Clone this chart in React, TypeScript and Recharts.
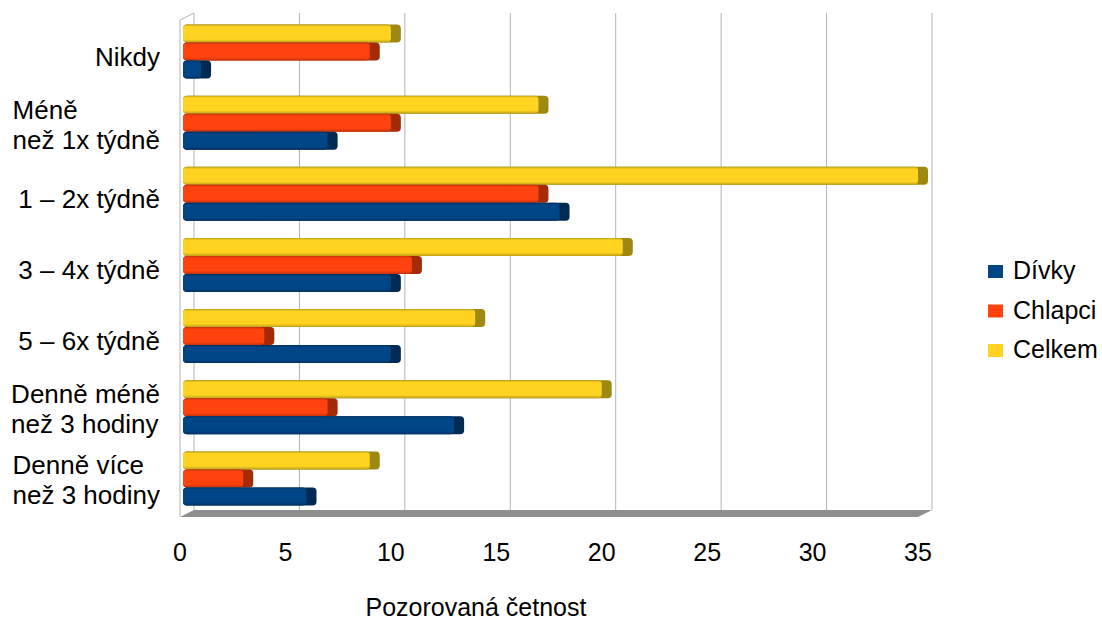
import { BarChart, Bar, XAxis, YAxis, CartesianGrid, Customized } from "recharts";

const categories = [
  "Nikdy",
  "Méně\nnež 1x týdně",
  "1 – 2x týdně",
  "3 – 4x týdně",
  "5 – 6x týdně",
  "Denně méně\nnež 3 hodiny",
  "Denně více\nnež 3 hodiny",
];
const divky = [1, 7, 18, 10, 10, 13, 6];
const chlapci = [9, 10, 17, 11, 4, 7, 3];
const celkem = [10, 17, 35, 21, 14, 20, 9];
const xTicks = [0, 5, 10, 15, 20, 25, 30, 35];

const FONT = '"Liberation Sans", Arial, sans-serif';
const FS = 25;
const YFS = 26;

const series = [
  { key: "celkem", name: "Celkem", main: "#ffd320", dark: "#9e8912", edge: "#b9a01a" },
  { key: "chlapci", name: "Chlapci", main: "#ff420e", dark: "#a52a07", edge: "#c5340b" },
  { key: "divky", name: "Dívky", main: "#004586", dark: "#002a52", edge: "#003163" },
];
const legendOrder = ["divky", "chlapci", "celkem"];

const data = categories.map((name, i) => ({
  name,
  divky: divky[i],
  chlapci: chlapci[i],
  celkem: celkem[i],
}));

let ctx: CanvasRenderingContext2D | null = null;
function textWidth(s: string) {
  if (!ctx) ctx = document.createElement("canvas").getContext("2d");
  if (!ctx) return s.length * YFS * 0.5;
  ctx.font = `${YFS}px "Liberation Sans"`;
  return ctx.measureText(s).width;
}

const makeShape = (s: (typeof series)[number]) => (p: any) => {
  const { x, y, width, height } = p;
  if (!width || width <= 0) return <g />;
  const x0 = x + 3;
  const x1 = x + width;
  const depth = 10;
  const gid = `g-${s.key}`;
  return (
    <g>
      <defs>
        <linearGradient id={gid} x1="0" y1="0" x2="0" y2="1">
          <stop offset="0" stopColor={s.edge} />
          <stop offset="0.12" stopColor={s.main} />
          <stop offset="0.82" stopColor={s.main} />
          <stop offset="1" stopColor={s.edge} />
        </linearGradient>
      </defs>
      <rect x={x0} y={y} width={x1 + depth - x0} height={height} rx={4} fill={s.dark} />
      <rect x={x0} y={y} width={x1 - x0} height={height} rx={4} fill={`url(#${gid})`} />
    </g>
  );
};

function YTick(p: any) {
  const lines = String(p.payload.value).split("\n");
  const right = 160;
  const cy = p.y;
  if (lines.length === 1) {
    return (
      <text x={right} y={cy + 14} textAnchor="end" fontSize={YFS} fontFamily={FONT} fill="#000">
        {lines[0]}
      </text>
    );
  }
  const left = right - Math.max(...lines.map(textWidth));
  return (
    <text fontSize={YFS} fontFamily={FONT} fill="#000" textAnchor="start">
      {lines.map((l, i) => (
        <tspan key={i} x={left} y={cy - 4 + i * 30}>
          {l}
        </tspan>
      ))}
    </text>
  );
}

function XTick(p: any) {
  return (
    <text x={p.x} y={p.y + 39} textAnchor="middle" fontSize={FS} fontFamily={FONT} fill="#000">
      {p.payload.value}
    </text>
  );
}

function Decor() {
  return (
    <g>
      <polygon points="180,517 918,517 932,510 194,510" fill="#8e8e8e" />
      <line x1={180} y1={20} x2={194} y2={13} stroke="#b3b3b3" strokeWidth={1} />
      <line x1={180} y1={20} x2={180} y2={517} stroke="#b3b3b3" strokeWidth={1} />
      <text x={476} y={616} textAnchor="middle" fontSize={FS} fontFamily={FONT} fill="#000">
        Pozorovaná četnost
      </text>
      {legendOrder.map((k, i) => {
        const s = series.find((e) => e.key === k)!;
        const base = 279 + i * 39.5;
        return (
          <g key={k}>
            <rect x={988} y={base - 14} width={15} height={13} fill={s.main} />
            <text x={1013} y={base} fontSize={FS} fontFamily={FONT} fill="#000">
              {s.name}
            </text>
          </g>
        );
      })}
    </g>
  );
}

export default function App() {
  return (
    <div style={{ position: "absolute", left: 0, top: 0, width: 1102, height: 622, background: "#fff" }}>
      <BarChart
        width={1102}
        height={622}
        data={data}
        layout="vertical"
        margin={{ top: 16, right: 184, bottom: 0, left: 0 }}
        barCategoryGap="12%"
        barGap={0}
      >
        <CartesianGrid
          horizontal={false}
          vertical={(g: any) => (
            <line
              key={g.key ?? `${g.x1}`}
              x1={g.x1 + 14}
              x2={g.x2 + 14}
              y1={g.y1 - 3}
              y2={g.y2 - 4}
              stroke="#b3b3b3"
              strokeWidth={1}
            />
          )}
        />
        <Customized component={Decor} />
        <XAxis
          type="number"
          domain={[0, 35]}
          ticks={xTicks}
          height={108}
          axisLine={false}
          tickLine={false}
          tick={XTick}
          interval={0}
        />
        <YAxis
          type="category"
          dataKey="name"
          width={180}
          axisLine={false}
          tickLine={false}
          tick={YTick}
          interval={0}
        />
        {series.map((s) => (
          <Bar
            key={s.key}
            dataKey={s.key}
            name={s.name}
            fill={s.main}
            shape={makeShape(s)}
            isAnimationActive={false}
          />
        ))}
      </BarChart>
    </div>
  );
}
